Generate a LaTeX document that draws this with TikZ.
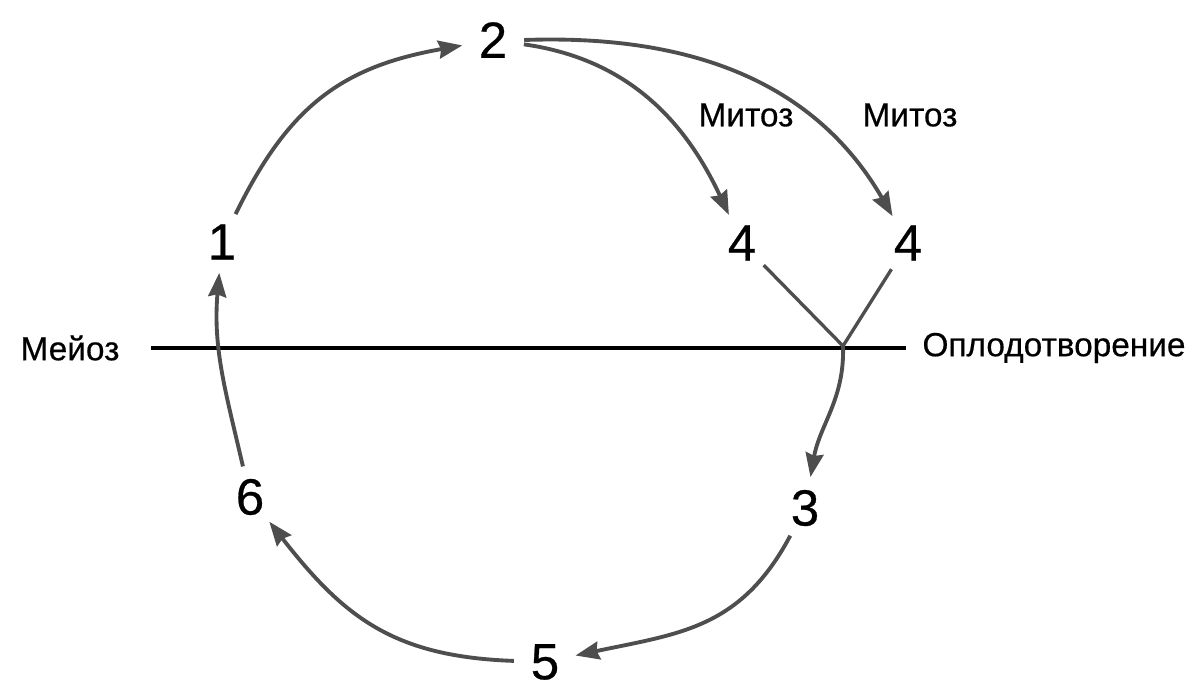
\documentclass[tikz,border=0pt]{standalone}
\usepackage{fontspec}
\setmainfont{Liberation Sans}[BoldFont={Liberation Sans}, BoldFeatures={FakeBold=0.5}]
\definecolor{arrowgray}{RGB}{78, 78, 78}
\usetikzlibrary{shapes,arrows.meta}
\tikzstyle{stage} = [circle, inner sep=2pt, outer sep=2pt,
    font=\fontsize{29}{30}\selectfont\bfseries]
\tikzstyle{term} = [inner sep=3pt, font=\fontsize{19}{21}\selectfont\bfseries]
\tikzstyle{line} = [draw, arrowgray, line width=2.2pt,
    -{Stealth[length=0.48cm, width=0.36cm, inset=0.05cm]}]
\tikzstyle{merge} = [draw, arrowgray, line width=1.9pt]

\begin{document}
\begin{tikzpicture}[x=0.02cm, y=0.02cm]
  \useasboundingbox (0,0) rectangle (1200,697);
  \node [stage] (one) at (222,455) {1};
  \node [stage] (two) at (493,657) {2};
  \node [stage] (three) at (805,189) {3};
  \node [stage] (four_left) at (742,454) {4};
  \node [stage] (four_right) at (908,454) {4};
  \node [stage] (five) at (545,35) {5};
  \node [stage] (six) at (250,200) {6};
  \node [term] (meiosis) at (70,349) {Мейоз};
  \node [term] (fertilization) at (1054,349) {Оплодотворение};
  \node [term] (mitosis_left) at (746,582) {Митоз};
  \node [term] (mitosis_right) at (910,582) {Митоз};
  \coordinate (zygote) at (843,351);
  % axis between meiosis and fertilization
  \draw [black, line width=2pt, shorten <=0.52cm, shorten >=0.22cm] (meiosis.east) -- (fertilization.west);
  \path [line] (one) to [out=64, in=190, looseness=1.1] (two);
  \path [line] (two) to [out=-8, in=115] (four_left);
  \path [line] (two.east) to [out=2, in=120] (four_right);
  \path [merge] (four_left) -- (zygote);
  \path [merge] (four_right) -- (zygote);
  \path [line] (zygote) to [out=-88, in=80] (three);
  \path [line] (three) to [out=-118, in=12, looseness=1.1] (five);
  \path [line] (five) to [out=178, in=-52, looseness=1.1] (six);
  \path [line] (six) to [out=103, in=-95] (one);
\end{tikzpicture}
\end{document}
